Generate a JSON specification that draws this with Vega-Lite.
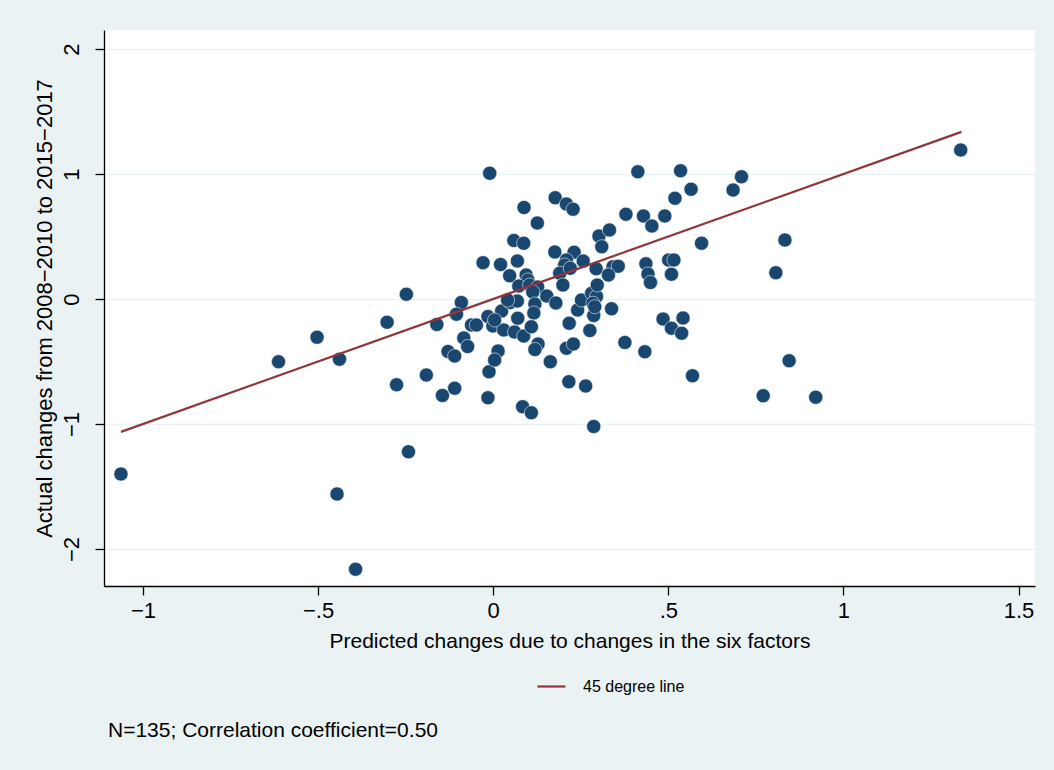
{
  "$schema": "https://vega.github.io/schema/vega-lite/v6.json",
  "width": 931,
  "height": 556,
  "autosize": {"type": "none"},
  "padding": {"left": 104, "top": 30, "right": 19, "bottom": 184},
  "background": "#EAF2F3",
  "config": {
    "view": {"fill": "white", "stroke": null},
    "font": "Liberation Sans"
  },
  "title": {
    "text": "N=135; Correlation coefficient=0.50",
    "orient": "bottom",
    "anchor": "start",
    "frame": "group",
    "fontSize": 21,
    "fontWeight": "normal",
    "font": "Liberation Sans",
    "color": "black",
    "offset": 25,
    "dx": 4
  },
  "datasets": {
    "points": [
      {"x": -1.063, "y": -1.40}, {"x": -0.613, "y": -0.502}, {"x": -0.503, "y": -0.306}, {"x": -0.439, "y": -0.482},
      {"x": -0.446, "y": -1.56}, {"x": -0.393, "y": -2.162}, {"x": -0.303, "y": -0.186}, {"x": -0.276, "y": -0.686},
      {"x": -0.248, "y": 0.038}, {"x": -0.242, "y": -1.222}, {"x": -0.191, "y": -0.608}, {"x": -0.161, "y": -0.204},
      {"x": -0.145, "y": -0.772}, {"x": -0.129, "y": -0.42}, {"x": -0.11, "y": -0.456}, {"x": -0.11, "y": -0.714},
      {"x": -0.091, "y": -0.028}, {"x": -0.105, "y": -0.122}, {"x": -0.084, "y": -0.312}, {"x": -0.073, "y": -0.38},
      {"x": -0.062, "y": -0.208}, {"x": -0.048, "y": -0.208}, {"x": -0.015, "y": -0.14}, {"x": -0.001, "y": -0.216},
      {"x": -0.012, "y": -0.582}, {"x": -0.015, "y": -0.79}, {"x": 0.014, "y": -0.416}, {"x": 0.004, "y": -0.488},
      {"x": -0.029, "y": 0.29}, {"x": -0.01, "y": 1.006}, {"x": 0.021, "y": 0.276}, {"x": 0.069, "y": 0.304},
      {"x": 0.047, "y": 0.186}, {"x": 0.094, "y": 0.192}, {"x": 0.099, "y": 0.152}, {"x": 0.059, "y": 0.468},
      {"x": 0.087, "y": 0.446}, {"x": 0.088, "y": 0.732}, {"x": 0.126, "y": 0.608}, {"x": 0.177, "y": 0.81},
      {"x": 0.209, "y": 0.76}, {"x": 0.228, "y": 0.718}, {"x": 0.176, "y": 0.376}, {"x": 0.231, "y": 0.374},
      {"x": 0.209, "y": 0.312}, {"x": 0.204, "y": 0.272}, {"x": 0.257, "y": 0.304}, {"x": 0.19, "y": 0.206},
      {"x": 0.199, "y": 0.112}, {"x": 0.073, "y": 0.104}, {"x": 0.104, "y": 0.112}, {"x": 0.127, "y": 0.096},
      {"x": 0.113, "y": 0.056}, {"x": 0.153, "y": 0.024}, {"x": 0.179, "y": -0.032}, {"x": 0.119, "y": -0.04},
      {"x": 0.116, "y": -0.112}, {"x": 0.024, "y": -0.096}, {"x": 0.049, "y": -0.028}, {"x": 0.069, "y": -0.016},
      {"x": 0.07, "y": -0.154}, {"x": 0.03, "y": -0.248}, {"x": 0.061, "y": -0.264}, {"x": 0.087, "y": -0.296},
      {"x": 0.109, "y": -0.222}, {"x": 0.128, "y": -0.36}, {"x": 0.119, "y": -0.404}, {"x": 0.209, "y": -0.394},
      {"x": 0.229, "y": -0.36}, {"x": 0.163, "y": -0.502}, {"x": 0.084, "y": -0.862}, {"x": 0.109, "y": -0.91},
      {"x": 0.216, "y": -0.662}, {"x": 0.264, "y": -0.696}, {"x": 0.287, "y": -1.02}, {"x": 0.217, "y": -0.194},
      {"x": 0.276, "y": -0.252}, {"x": 0.241, "y": -0.088}, {"x": 0.252, "y": -0.008}, {"x": 0.281, "y": 0.046},
      {"x": 0.295, "y": 0.02}, {"x": 0.285, "y": -0.034}, {"x": 0.287, "y": -0.132}, {"x": 0.297, "y": 0.112},
      {"x": 0.294, "y": 0.242}, {"x": 0.338, "y": -0.078}, {"x": 0.342, "y": 0.258}, {"x": 0.357, "y": 0.262},
      {"x": 0.329, "y": 0.192}, {"x": 0.302, "y": 0.504}, {"x": 0.31, "y": 0.418}, {"x": 0.332, "y": 0.552},
      {"x": 0.379, "y": 0.678}, {"x": 0.429, "y": 0.664}, {"x": 0.453, "y": 0.584}, {"x": 0.49, "y": 0.664},
      {"x": 0.519, "y": 0.806}, {"x": 0.565, "y": 0.878}, {"x": 0.535, "y": 1.026}, {"x": 0.413, "y": 1.018},
      {"x": 0.709, "y": 0.978}, {"x": 0.685, "y": 0.872}, {"x": 0.595, "y": 0.446}, {"x": 0.436, "y": 0.282},
      {"x": 0.442, "y": 0.2}, {"x": 0.449, "y": 0.132}, {"x": 0.501, "y": 0.312}, {"x": 0.516, "y": 0.312},
      {"x": 0.509, "y": 0.198}, {"x": 0.485, "y": -0.16}, {"x": 0.542, "y": -0.152}, {"x": 0.509, "y": -0.234},
      {"x": 0.538, "y": -0.274}, {"x": 0.376, "y": -0.348}, {"x": 0.433, "y": -0.422}, {"x": 0.569, "y": -0.614},
      {"x": 0.833, "y": 0.472}, {"x": 0.807, "y": 0.21}, {"x": 0.845, "y": -0.494}, {"x": 0.771, "y": -0.774},
      {"x": 0.921, "y": -0.786}, {"x": 1.335, "y": 1.192},
      {"x": 0.004, "y": -0.168}, {"x": 0.041, "y": -0.008}, {"x": 0.29, "y": -0.062}, {"x": 0.22, "y": 0.246}
    ],
    "line": [
      {"x": -1.063, "y": -1.063},
      {"x": 1.337, "y": 1.337}
    ]
  },
  "encoding": {
    "x": {
      "field": "x",
      "type": "quantitative",
      "scale": {"domain": [-1.1114, 1.5471], "nice": false, "zero": false},
      "axis": {
        "title": "Predicted changes due to changes in the six factors",
        "values": [-1, -0.5, 0, 0.5, 1, 1.5],
        "labelExpr": "datum.value === -1 ? '−1' : datum.value === -0.5 ? '−.5' : datum.value === 0.5 ? '.5' : datum.value === 1.5 ? '1.5' : datum.value === 1 ? '1' : '0'",
        "grid": false,
        "domainColor": "black",
        "domainWidth": 1.3,
        "tickColor": "black",
        "tickWidth": 1.3,
        "tickSize": 9,
        "labelFontSize": 22,
        "labelColor": "black",
        "labelPadding": 5,
        "titleFontSize": 21,
        "titleFontWeight": "normal",
        "titleColor": "black",
        "titlePadding": 9
      }
    },
    "y": {
      "field": "y",
      "type": "quantitative",
      "scale": {"domain": [-2.296, 2.152], "nice": false, "zero": false},
      "axis": {
        "title": "Actual changes from 2008−2010 to 2015−2017",
        "values": [-2, -1, 0, 1, 2],
        "labelExpr": "datum.value < 0 ? '−' + abs(datum.value) : '' + datum.value",
        "grid": true,
        "gridColor": "#EAF2F3",
        "gridWidth": 1.6,
        "domainColor": "black",
        "domainWidth": 1.3,
        "tickColor": "black",
        "tickWidth": 1.3,
        "tickSize": 9,
        "labelAngle": 270,
        "labelAlign": "center",
        "labelBaseline": "bottom",
        "labelFontSize": 22,
        "labelColor": "black",
        "labelPadding": 12,
        "titleFontSize": 22,
        "titleFontWeight": "normal",
        "titleColor": "black",
        "titlePadding": 4
      }
    }
  },
  "layer": [
    {
      "data": {"name": "points"},
      "mark": {"type": "point", "shape": "circle", "filled": true, "size": 200, "color": "#1A476F", "opacity": 1, "stroke": "#E6EEF3", "strokeWidth": 0.6}
    },
    {
      "data": {"name": "line"},
      "mark": {"type": "line", "strokeWidth": 2.2},
      "encoding": {
        "color": {
          "datum": "45 degree line",
          "type": "nominal",
          "scale": {"range": ["#90353B"]},
          "legend": {
            "title": null,
            "orient": "none",
            "legendX": 432,
            "legendY": 641,
            "symbolType": "stroke",
            "symbolSize": 784,
            "symbolStrokeWidth": 2.2,
            "labelFontSize": 16,
            "labelColor": "black",
            "labelFont": "Liberation Sans",
            "labelOffset": 16
          }
        }
      }
    }
  ]
}
